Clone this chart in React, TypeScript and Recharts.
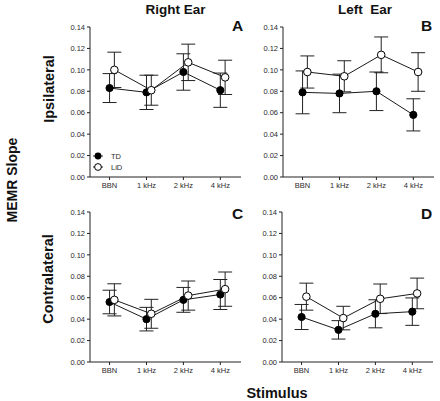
import { LineChart, Line, XAxis, YAxis, ErrorBar } from "recharts"

const categories = ["BBN", "1 kHz", "2 kHz", "4 kHz"]
const yTicks = [0, 0.02, 0.04, 0.06, 0.08, 0.1, 0.12, 0.14]

// A: right ear, ipsilateral
const rightIpsiTD = [0.083, 0.079, 0.098, 0.081]
const rightIpsiTDErr = [0.0135, 0.016, 0.017, 0.016]
const rightIpsiLiD = [0.1, 0.081, 0.107, 0.093]
const rightIpsiLiDErr = [0.0165, 0.014, 0.017, 0.016]

// B: left ear, ipsilateral
const leftIpsiTD = [0.079, 0.078, 0.08, 0.058]
const leftIpsiTDErr = [0.02, 0.018, 0.018, 0.015]
const leftIpsiLiD = [0.098, 0.094, 0.114, 0.098]
const leftIpsiLiDErr = [0.015, 0.0145, 0.0167, 0.018]

// C: right ear, contralateral
const rightContraTD = [0.056, 0.04, 0.058, 0.063]
const rightContraTDErr = [0.011, 0.011, 0.0116, 0.014]
const rightContraLiD = [0.058, 0.045, 0.062, 0.068]
const rightContraLiDErr = [0.015, 0.0135, 0.0136, 0.016]

// D: left ear, contralateral
const leftContraTD = [0.042, 0.03, 0.045, 0.047]
const leftContraTDErr = [0.0117, 0.0086, 0.0131, 0.0128]
const leftContraLiD = [0.061, 0.041, 0.059, 0.064]
const leftContraLiDErr = [0.0126, 0.011, 0.0138, 0.0143]

const FONT = "'Liberation Sans', Arial, sans-serif"
const LID_SHIFT = 0.13
const Y_AXIS_W = 40
const PLOT_W = 151
const PLOT_H = 150

interface PanelProps {
  plotLeft: number
  plotTop: number
  td: number[]
  tdErr: number[]
  lid: number[]
  lidErr: number[]
}

function Panel({ plotLeft, plotTop, td, tdErr, lid, lidErr }: PanelProps) {
  const tdData = categories.map((c, i) => ({ x: i, y: td[i], e: tdErr[i] }))
  const lidData = categories.map((c, i) => ({ x: i + LID_SHIFT, y: lid[i], e: lidErr[i] }))
  const tick = { fill: "#2a2a2a", fontSize: 7.5, fontFamily: FONT }

  return (
    <div style={{ position: "absolute", left: plotLeft - Y_AXIS_W, top: plotTop - 10 }}>
      <LineChart
        width={Y_AXIS_W + PLOT_W + 5}
        height={10 + PLOT_H + 20}
        margin={{ top: 10, right: 5, left: 0, bottom: 0 }}
      >
        <XAxis
          type="number"
          dataKey="x"
          domain={[-0.53, 3.56]}
          ticks={[0, 1, 2, 3]}
          interval={0}
          allowDataOverflow
          tickFormatter={(v: number) => categories[v] ?? ""}
          tick={tick}
          tickSize={3}
          tickMargin={3}
          height={20}
          stroke="#222"
        />
        <YAxis
          type="number"
          domain={[0, 0.14]}
          ticks={yTicks}
          interval={0}
          tickFormatter={(v: number) => v.toFixed(2)}
          tick={tick}
          tickSize={3}
          tickMargin={2}
          width={Y_AXIS_W}
          stroke="#222"
        />
        <Line
          data={tdData}
          dataKey="y"
          stroke="#1a1a1a"
          strokeWidth={1}
          dot={{ r: 3.6, fill: "#000", stroke: "#000", strokeWidth: 1 }}
          isAnimationActive={false}
        >
          <ErrorBar dataKey="e" direction="y" width={7} stroke="#222" strokeWidth={1} isAnimationActive={false} />
        </Line>
        <Line
          data={lidData}
          dataKey="y"
          stroke="#1a1a1a"
          strokeWidth={1}
          dot={{ r: 3.8, fill: "#fff", stroke: "#000", strokeWidth: 1 }}
          isAnimationActive={false}
        >
          <ErrorBar dataKey="e" direction="y" width={7} stroke="#222" strokeWidth={1} isAnimationActive={false} />
        </Line>
      </LineChart>
    </div>
  )
}

export default function App() {
  const bold = { fontFamily: FONT, fontWeight: 700, fill: "#111" }
  const legendText = { fontFamily: FONT, fontSize: 7.5, fill: "#2a2a2a" }

  return (
    <div style={{ position: "absolute", left: 0, top: 0, width: 440, height: 401, background: "#fff" }}>
      <Panel plotLeft={90} plotTop={27} td={rightIpsiTD} tdErr={rightIpsiTDErr} lid={rightIpsiLiD} lidErr={rightIpsiLiDErr} />
      <Panel plotLeft={283} plotTop={27} td={leftIpsiTD} tdErr={leftIpsiTDErr} lid={leftIpsiLiD} lidErr={leftIpsiLiDErr} />
      <Panel plotLeft={90} plotTop={212} td={rightContraTD} tdErr={rightContraTDErr} lid={rightContraLiD} lidErr={rightContraLiDErr} />
      <Panel plotLeft={282} plotTop={212} td={leftContraTD} tdErr={leftContraTDErr} lid={leftContraLiD} lidErr={leftContraLiDErr} />

      <svg width={440} height={401} style={{ position: "absolute", left: 0, top: 0, pointerEvents: "none" }}>
        <text x={175.5} y={14} textAnchor="middle" fontSize={13.5} style={bold}>Right Ear</text>
        <text x={365} y={14} textAnchor="middle" fontSize={13.5} style={{ ...bold, whiteSpace: "pre" }}>Left  Ear</text>

        <text x={237.5} y={31} textAnchor="middle" fontSize={15.5} style={bold}>A</text>
        <text x={426.5} y={31} textAnchor="middle" fontSize={15.5} style={bold}>B</text>
        <text x={237.5} y={219} textAnchor="middle" fontSize={15.5} style={bold}>C</text>
        <text x={426.5} y={219} textAnchor="middle" fontSize={15.5} style={bold}>D</text>

        <text transform="translate(54,89) rotate(-90)" textAnchor="middle" fontSize={14.5} style={bold}>Ipsilateral</text>
        <text transform="translate(53,279) rotate(-90)" textAnchor="middle" fontSize={14.5} style={bold}>Contralateral</text>
        <text transform="translate(17,180) rotate(-90)" textAnchor="middle" fontSize={14} style={bold}>MEMR Slope</text>
        <text x={277} y={398} textAnchor="middle" fontSize={14.5} style={bold}>Stimulus</text>

        {/* legend, panel A */}
        <line x1={93} x2={103} y1={156} y2={156} stroke="#222" />
        <circle cx={98} cy={156} r={3.4} fill="#000" />
        <text x={111} y={158.7} style={legendText}>TD</text>
        <line x1={93} x2={103} y1={167} y2={167} stroke="#222" />
        <circle cx={98} cy={167} r={3.4} fill="#fff" stroke="#000" />
        <text x={111} y={169.7} style={legendText}>LiD</text>
      </svg>
    </div>
  )
}
